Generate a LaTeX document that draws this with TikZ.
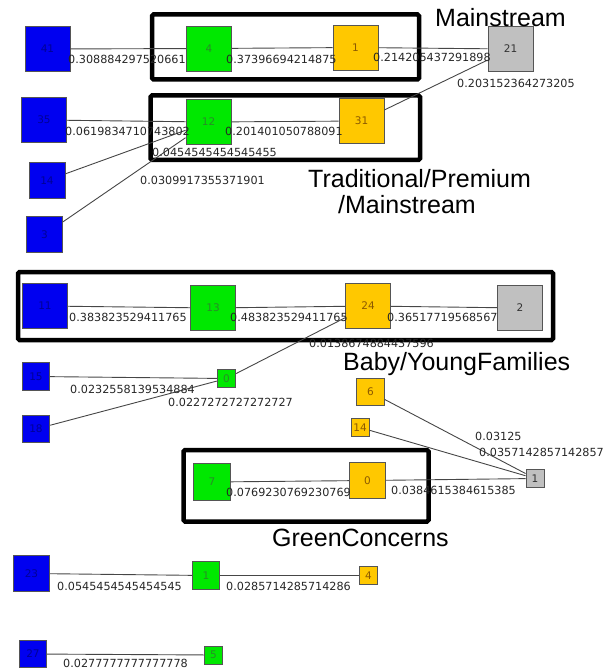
\documentclass[tikz,border=0pt]{standalone}
\usepackage{fontspec}
\setmainfont{Liberation Sans}
\newfontfamily\dvsans{DejaVu Sans}
\definecolor{vblue}{RGB}{0,0,240}
\definecolor{vbluetxt}{RGB}{0,0,150}
\definecolor{vgreen}{RGB}{0,232,0}
\definecolor{vgreentxt}{RGB}{40,140,40}
\definecolor{vorange}{RGB}{255,200,0}
\definecolor{vorangetxt}{RGB}{140,90,0}
\definecolor{vgray}{RGB}{192,192,192}
\definecolor{vgraytxt}{RGB}{50,50,50}
\definecolor{vborder}{RGB}{85,85,85}
\definecolor{vedge}{RGB}{70,70,70}
\begin{document}
\begin{tikzpicture}[x=1pt,y=-1pt,
  vtx/.style={draw=vborder, line width=0.9pt, inner sep=0pt, minimum size=#1,
    font=\dvsans\fontsize{10.5}{12}\selectfont},
  bl/.style={vtx=#1, fill=vblue, text=vbluetxt},
  gr/.style={vtx=#1, fill=vgreen, text=vgreentxt},
  or/.style={vtx=#1, fill=vorange, text=vorangetxt},
  gy/.style={vtx=#1, fill=vgray, text=vgraytxt},
  link/.style={draw=vedge, line width=0.9pt},
  elab/.style={anchor=west, inner sep=0pt, text=black!85,
    font=\dvsans\fontsize{11.2}{13}\selectfont},
  cluster/.style={draw=black, line width=4.5pt, rounded corners=1.5pt},
  clab/.style={anchor=base west, inner sep=0pt, font=\fontsize{25}{30}\selectfont}
]
\useasboundingbox (0,0) rectangle (608,671);

% cluster frames
\draw[cluster] (152,14.5) rectangle (419,79.5);
\draw[cluster] (150.5,95.5) rectangle (420,160);
\draw[cluster] (18,272) rectangle (553,340);
\draw[cluster] (183.5,450) rectangle (428.5,521.5);

% vertices
\node[bl=45] (n41) at (47.5,49) {41};
\node[gr=45] (n4) at (209,48.5) {4};
\node[or=45] (n1) at (355.5,47.5) {1};
\node[gy=45] (n21) at (510.5,49) {21};
\node[bl=45] (n35) at (44,120) {35};
\node[gr=45] (n12) at (208.5,122) {12};
\node[or=45] (n31) at (361.5,121) {31};
\node[bl=36] (n14) at (47,180.5) {14};
\node[bl=36] (n3) at (44.5,234.5) {3};
\node[bl=45] (n11) at (45,306) {11};
\node[gr=45] (n13) at (213,308) {13};
\node[or=45] (n24) at (368,306) {24};
\node[gy=45] (n2) at (520,308) {2};
\node[bl=27.5] (n15) at (36,376.5) {15};
\node[bl=27.5] (n18) at (36,429) {18};
\node[gr=18.5] (g0) at (226.5,378.5) {0};
\node[or=27.5] (o6) at (370.5,392) {6};
\node[or=18] (o14) at (360,427.5) {14};
\node[gy=18] (s1) at (535,478.5) {1};
\node[gr=36.5] (g7) at (212,482) {7};
\node[or=36.5] (o0) at (367.5,480.5) {0};
\node[bl=36.5] (n23) at (31.5,573.5) {23};
\node[gr=27.5] (g1) at (206,575.5) {1};
\node[or=18.5] (o4) at (368.5,575.5) {4};
\node[bl=27.5] (n27) at (33,654) {27};
\node[gr=18] (g5) at (213.5,655) {5};

% connections
\draw[link] (n41) -- (n4);
\draw[link] (n4) -- (n1);
\draw[link] (n1) -- (n21);
\draw[link] (n35) -- (n12);
\draw[link] (n12) -- (n31);
\draw[link] (n31) -- (n21);
\draw[link] (n14) -- (n12);
\draw[link] (n3) -- (n12);
\draw[link] (n11) -- (n13);
\draw[link] (n13) -- (n24);
\draw[link] (n24) -- (n2);
\draw[link] (n15) -- (g0);
\draw[link] (n18) -- (g0);
\draw[link] (g0) -- (n24);
\draw[link] (o6) -- (s1);
\draw[link] (o14) -- (s1);
\draw[link] (g7) -- (o0);
\draw[link] (o0) -- (s1);
\draw[link] (n23) -- (g1);
\draw[link] (g1) -- (o4);
\draw[link] (n27) -- (g5);

% weights
\node[elab] (w1) at (68,59.5) {0.308884297520661};
\node[elab] (w2) at (226,59.5) {0.37396694214875};
\node[elab] (w3) at (373,57.5) {0.214205437291898};
\node[elab] (w4) at (457,83) {0.203152364273205};
\node[elab] (w5) at (65,131.7) {0.0619834710743802};
\node[elab] (w6) at (225,131.7) {0.201401050788091};
\node[elab] (w7) at (152,152) {0.0454545454545455};
\node[elab] (w8) at (140,180) {0.0309917355371901};
\node[elab] (w9) at (69,317.7) {0.383823529411765};
\node[elab] (w10) at (230,317.7) {0.483823529411765};
\node[elab] (w11) at (387,317) {0.36517719568567};
\node[elab] (w12) at (309,343.5) {0.0138674884437596};
\node[elab] (w13) at (70,389.5) {0.0232558139534884};
\node[elab] (w14) at (168,402.7) {0.0227272727272727};
\node[elab] (w15) at (475,436.7) {0.03125};
\node[elab] (w16) at (479,452.7) {0.0357142857142857};
\node[elab] (w17) at (226,492) {0.0769230769230769};
\node[elab] (w18) at (391,490.5) {0.0384615384615385};
\node[elab] (w19) at (57,586) {0.0545454545454545};
\node[elab] (w20) at (226,586) {0.0285714285714286};
\node[elab] (w21) at (63,663) {0.0277777777777778};

% cluster names
\node[clab] (c1) at (435,27) {Mainstream};
\node[clab] (c2a) at (308,187) {Traditional/Premium};
\node[clab] (c2b) at (338,213) {/Mainstream};
\node[clab] (c3) at (343,370) {Baby/YoungFamilies};
\node[clab] (c4) at (272,546) {GreenConcerns};
\end{tikzpicture}
\end{document}
